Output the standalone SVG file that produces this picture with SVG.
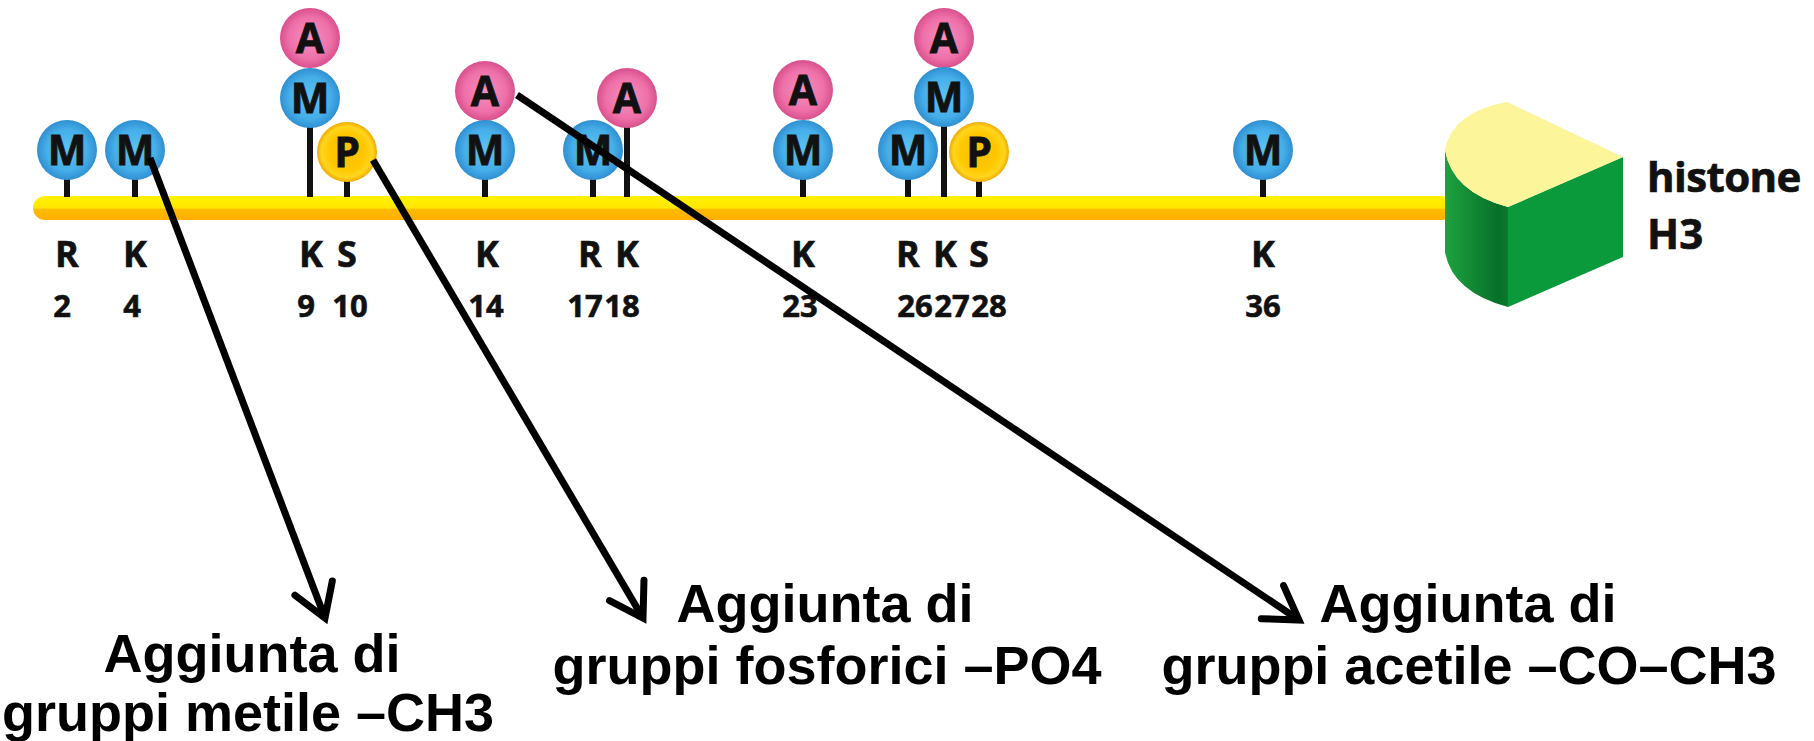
<svg xmlns="http://www.w3.org/2000/svg" width="1814" height="741" viewBox="0 0 1814 741">
  <style>
    .stem { stroke: #111; stroke-width: 6; fill: none; }
    .glyph { font-family: "Open Sans", "Noto Sans", sans-serif; font-weight: 700; font-size: 41px; fill: #111; stroke: #111; stroke-width: 0.8; text-anchor: middle; }
    .res { font-family: "Open Sans", "Noto Sans", sans-serif; font-weight: 700; font-size: 36px; fill: #111; stroke: #111; stroke-width: 0.6; text-anchor: middle; }
    .num { font-family: "Open Sans", "Noto Sans", sans-serif; font-weight: 700; font-size: 31px; fill: #111; stroke: #111; stroke-width: 0.6; text-anchor: middle; }
    .cap { font-family: "Liberation Sans", Arial, sans-serif; font-weight: 700; font-size: 54px; fill: #000; text-anchor: middle; }
    .hist { font-family: "Open Sans", "Noto Sans", sans-serif; font-weight: 700; font-size: 42px; fill: #111; stroke: #111; stroke-width: 0.7; }
    .arrow { stroke: #000; stroke-width: 7; fill: none; marker-end: url(#head); }
  </style>
  <defs>
    <radialGradient id="blue" cx="0.5" cy="0.5" r="0.5">
      <stop offset="0" stop-color="#5cc4f3"/>
      <stop offset="0.7" stop-color="#45ade8"/>
      <stop offset="1" stop-color="#2f8fd2"/>
    </radialGradient>
    <radialGradient id="pink" cx="0.5" cy="0.5" r="0.5">
      <stop offset="0" stop-color="#f690c0"/>
      <stop offset="0.7" stop-color="#ee70a9"/>
      <stop offset="1" stop-color="#d9508c"/>
    </radialGradient>
    <radialGradient id="gold" cx="0.5" cy="0.5" r="0.5">
      <stop offset="0" stop-color="#ffbf00"/>
      <stop offset="0.6" stop-color="#ffc700"/>
      <stop offset="0.85" stop-color="#ffd51e"/>
      <stop offset="1" stop-color="#f2a900"/>
    </radialGradient>
    <linearGradient id="bar" x1="0" y1="0" x2="0" y2="1">
      <stop offset="0" stop-color="#fff200"/>
      <stop offset="0.5" stop-color="#ffe600"/>
      <stop offset="0.56" stop-color="#ffbb00"/>
      <stop offset="1" stop-color="#ffae00"/>
    </linearGradient>
    <linearGradient id="side" x1="0" y1="0" x2="1" y2="0">
      <stop offset="0" stop-color="#1ea23f"/>
      <stop offset="0.85" stop-color="#07702a"/>
      <stop offset="1" stop-color="#0a7a2e"/>
    </linearGradient>
    <marker id="head" markerUnits="userSpaceOnUse" markerWidth="80" markerHeight="80" refX="0" refY="0" orient="auto" overflow="visible">
      <path d="M-32,-20 L0,0 L-32,20" fill="none" stroke="#000" stroke-width="7" stroke-linecap="round" stroke-linejoin="miter"/>
    </marker>
  </defs>

  <rect width="1814" height="741" fill="#fff"/>

  <!-- polypeptide tail -->
  <rect id="tail" x="33" y="196" width="1420" height="24" rx="12" fill="url(#bar)"/>

  <!-- histone core -->
  <g id="histone">
    <path d="M1445,150 Q1452,192 1508,207 L1508,307 Q1452,292 1445,252 Z" fill="url(#side)"/>
    <path d="M1508,207 L1623,157 L1623,257 L1508,307 Z" fill="#0b9a3b"/>
    <path d="M1445,150 Q1452,112 1507,102 L1623,157 L1508,207 Q1452,192 1445,150 Z" fill="#fcf59a"/>
    <text class="hist" x="1647" y="192" letter-spacing="-0.6">histone</text>
    <text class="hist" x="1647" y="249">H3</text>
  </g>

  <!-- modified residues -->
  <g id="r2">
    <line class="stem" x1="67" y1="178" x2="67" y2="197"/>
    <circle cx="67" cy="150" r="30" fill="url(#blue)"/>
    <text class="glyph" x="67" y="165">M</text>
    <text class="res" x="67" y="267">R</text>
    <text class="num" x="62" y="317">2</text>
  </g>
  <g id="k4">
    <line class="stem" x1="135" y1="178" x2="135" y2="197"/>
    <circle cx="135" cy="150" r="30" fill="url(#blue)"/>
    <text class="glyph" x="135" y="165">M</text>
    <text class="res" x="135" y="267">K</text>
    <text class="num" x="132" y="317">4</text>
  </g>
  <g id="k9">
    <line class="stem" x1="310" y1="126" x2="310" y2="197"/>
    <circle cx="310" cy="38" r="30" fill="url(#pink)"/>
    <text class="glyph" x="310" y="53">A</text>
    <circle cx="310" cy="98" r="30" fill="url(#blue)"/>
    <text class="glyph" x="310" y="113">M</text>
    <text class="res" x="311" y="267">K</text>
    <text class="num" x="306" y="317">9</text>
  </g>
  <g id="s10">
    <line class="stem" x1="347" y1="180" x2="347" y2="197"/>
    <circle cx="347" cy="152" r="30" fill="url(#gold)"/>
    <text class="glyph" x="347" y="167">P</text>
    <text class="res" x="347" y="267">S</text>
    <text class="num" x="350" y="317">10</text>
  </g>
  <g id="k14">
    <line class="stem" x1="485" y1="178" x2="485" y2="197"/>
    <circle cx="485" cy="91" r="30" fill="url(#pink)"/>
    <text class="glyph" x="485" y="106">A</text>
    <circle cx="485" cy="150" r="30" fill="url(#blue)"/>
    <text class="glyph" x="485" y="165">M</text>
    <text class="res" x="487" y="267">K</text>
    <text class="num" x="486" y="317">14</text>
  </g>
  <g id="r17">
    <line class="stem" x1="593" y1="178" x2="593" y2="197"/>
    <circle cx="593" cy="150" r="30" fill="url(#blue)"/>
    <text class="glyph" x="593" y="165">M</text>
    <text class="res" x="590" y="267">R</text>
    <text class="num" x="585" y="317">17</text>
  </g>
  <g id="k18">
    <line class="stem" x1="627" y1="126" x2="627" y2="197"/>
    <circle cx="627" cy="98" r="30" fill="url(#pink)"/>
    <text class="glyph" x="627" y="113">A</text>
    <text class="res" x="627" y="267">K</text>
    <text class="num" x="622" y="317">18</text>
  </g>
  <g id="k23">
    <line class="stem" x1="803" y1="178" x2="803" y2="197"/>
    <circle cx="803" cy="90" r="30" fill="url(#pink)"/>
    <text class="glyph" x="803" y="105">A</text>
    <circle cx="803" cy="150" r="30" fill="url(#blue)"/>
    <text class="glyph" x="803" y="165">M</text>
    <text class="res" x="803" y="267">K</text>
    <text class="num" x="800" y="317">23</text>
  </g>
  <g id="r26">
    <line class="stem" x1="908" y1="178" x2="908" y2="197"/>
    <circle cx="908" cy="150" r="30" fill="url(#blue)"/>
    <text class="glyph" x="908" y="165">M</text>
    <text class="res" x="908" y="267">R</text>
    <text class="num" x="915" y="317">26</text>
  </g>
  <g id="k27">
    <line class="stem" x1="944" y1="125" x2="944" y2="197"/>
    <circle cx="944" cy="38" r="30" fill="url(#pink)"/>
    <text class="glyph" x="944" y="53">A</text>
    <circle cx="944" cy="97" r="30" fill="url(#blue)"/>
    <text class="glyph" x="944" y="112">M</text>
    <text class="res" x="945" y="267">K</text>
    <text class="num" x="952" y="317">27</text>
  </g>
  <g id="s28">
    <line class="stem" x1="979" y1="180" x2="979" y2="197"/>
    <circle cx="979" cy="152" r="30" fill="url(#gold)"/>
    <text class="glyph" x="979" y="167">P</text>
    <text class="res" x="979" y="267">S</text>
    <text class="num" x="989" y="317">28</text>
  </g>
  <g id="k36">
    <line class="stem" x1="1263" y1="178" x2="1263" y2="197"/>
    <circle cx="1263" cy="150" r="30" fill="url(#blue)"/>
    <text class="glyph" x="1263" y="165">M</text>
    <text class="res" x="1263" y="267">K</text>
    <text class="num" x="1263" y="317">36</text>
  </g>

  <!-- captions -->
  <g id="methyl">
    <text class="cap" x="252" y="672">Aggiunta di</text>
    <text class="cap" x="248" y="731">gruppi metile –CH3</text>
  </g>
  <g id="phospho">
    <text class="cap" x="825" y="622">Aggiunta di</text>
    <text class="cap" x="827" y="684">gruppi fosforici –PO4</text>
  </g>
  <g id="acetyl">
    <text class="cap" x="1468" y="622">Aggiunta di</text>
    <text class="cap" x="1469" y="684">gruppi acetile –CO–CH3</text>
  </g>

  <!-- connectors -->
  <g id="connectors">
    <line class="arrow" x1="150" y1="158" x2="325" y2="618"/>
    <line class="arrow" x1="373" y1="160" x2="643" y2="618"/>
    <line class="arrow" x1="517" y1="95" x2="1299" y2="620"/>
  </g>
</svg>
